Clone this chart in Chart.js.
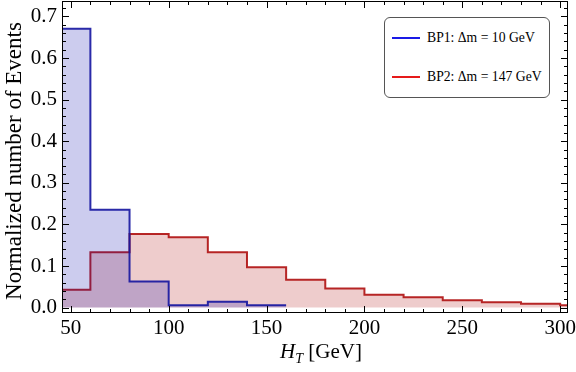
<!DOCTYPE html>
<html lang="en">
  <head>
    <meta charset="UTF-8" />
    <title>HT distribution</title>
    <script src="https://cdn.jsdelivr.net/npm/chart.js"></script>
    <style>
      body { margin: 0; background: #fff; }
      #wrap { position: relative; width: 576px; height: 372px; font-family: "Liberation Serif", serif; }
      #legend {
        position: absolute; left: 384px; top: 17px; width: 164px; height: 79px;
        border: 1px solid #555; border-radius: 6px; background: #fff; font-size: 13.7px;
      }
      .item { position: absolute; left: 7px; display: flex; align-items: center; white-space: nowrap; }
      .item span.ln { display: inline-block; width: 28px; height: 2px; margin-right: 7px; }
      #xtitle { position: absolute; left: 0; width: 642px; top: 339px; text-align: center; font-size: 21px; }
      #xtitle sub { font-size: 14px; }
      #ytitle {
        position: absolute; left: 14px; top: 161px; width: 320px; text-align: center;
        font-size: 23px; line-height: 26px; white-space: nowrap;
        transform: translate(-50%, -50%) rotate(-90deg);
      }
    </style>
  </head>
  <body>
    <div id="wrap">
      <canvas id="chart" width="576" height="372"></canvas>
      <div id="legend">
        <div class="item" style="top: 12px"><span class="ln" style="background:#1a1ae6"></span>BP1: &Delta;m = 10 GeV</div>
        <div class="item" style="top: 51px"><span class="ln" style="background:#e61a1a"></span>BP2: &Delta;m = 147 GeV</div>
      </div>
      <div id="xtitle"><i>H</i><sub><i>T</i></sub> [GeV]</div>
      <div id="ytitle">Normalized number of Events</div>
    </div>
    <script>
      // bin edges (GeV) and normalized counts
      const bp1Edges = [40, 60, 80, 100, 120, 140, 160];
      const bp1Values = [0.670, 0.235, 0.063, 0.0055, 0.014, 0.0055];
      const bp2Edges = [40, 60, 80, 100, 120, 140, 160, 180, 200, 220, 240, 260, 280, 300, 320];
      const bp2Values = [0.043, 0.133, 0.177, 0.169, 0.133, 0.097, 0.067, 0.046, 0.031, 0.025, 0.0175, 0.0127, 0.009, 0.0055];
      const xTicks = [50, 100, 150, 200, 250, 300];
      const yTicks = [0, 0.1, 0.2, 0.3, 0.4, 0.5, 0.6, 0.7];

      function steps(edges, values) {
        const pts = values.map((v, i) => ({ x: edges[i], y: v }));
        pts.push({ x: edges[values.length], y: values[values.length - 1] });
        return pts;
      }

      // Mathematica style frame with inward ticks on all four sides
      const framePlugin = {
        id: "frame",
        afterDatasetsDraw(chart) {
          const { ctx, chartArea: a, scales } = chart;
          const xs = scales.x, ys = scales.y;
          ctx.save();
          ctx.strokeStyle = "#000";
          ctx.lineWidth = 1;
          ctx.strokeRect(a.left + 0.5, a.top + 0.5, a.right - a.left - 1, a.bottom - a.top - 1);
          ctx.beginPath();
          for (let v = 50; v <= xs.max; v += 10) {
            const px = Math.round(xs.getPixelForValue(v)) + 0.5;
            const len = v % 50 === 0 ? 7 : 4;
            ctx.moveTo(px, a.bottom); ctx.lineTo(px, a.bottom - len);
            ctx.moveTo(px, a.top); ctx.lineTo(px, a.top + len);
          }
          for (let i = 0; i * 0.02 <= ys.max; i++) {
            const py = Math.round(ys.getPixelForValue(i * 0.02)) + 0.5;
            const len = i % 5 === 0 ? 7 : 4;
            ctx.moveTo(a.left, py); ctx.lineTo(a.left + len, py);
            ctx.moveTo(a.right, py); ctx.lineTo(a.right - len, py);
          }
          ctx.stroke();
          ctx.restore();
        },
      };

      const tickFont = { family: "Liberation Serif", size: 21 };

      new Chart(document.getElementById("chart"), {
        type: "line",
        data: {
          datasets: [
            {
              label: "BP1: \u0394m = 10 GeV",
              data: steps(bp1Edges, bp1Values),
              stepped: true,
              borderColor: "rgba(20, 20, 160, 0.9)",
              backgroundColor: "rgba(0, 0, 170, 0.2)",
              borderWidth: 2,
              pointRadius: 0,
              fill: "origin",
            },
            {
              label: "BP2: \u0394m = 147 GeV",
              data: steps(bp2Edges, bp2Values),
              stepped: true,
              borderColor: "rgba(175, 15, 15, 0.9)",
              backgroundColor: "rgba(170, 0, 0, 0.2)",
              borderWidth: 2,
              pointRadius: 0,
              fill: "origin",
            },
          ],
        },
        options: {
          responsive: false,
          animation: false,
          layout: { padding: { top: 1, right: 8, left: 0, bottom: 0 } },
          plugins: { legend: { display: false }, tooltip: { enabled: false } },
          scales: {
            x: {
              type: "linear",
              min: 45.5,
              max: 304,
              grid: { display: false, drawTicks: false },
              border: { display: false },
              ticks: { font: tickFont, color: "#000", padding: 3, maxRotation: 0 },
              afterBuildTicks(scale) { scale.ticks = xTicks.map(v => ({ value: v })); },
              afterFit(scale) { scale.height = 59; scale.paddingLeft = 0; scale.paddingRight = 0; },
            },
            y: {
              min: -0.013,
              max: 0.737,
              grid: { display: false, drawTicks: false },
              border: { display: false },
              ticks: { font: tickFont, color: "#000", padding: 5, callback: v => v.toFixed(1) },
              afterBuildTicks(scale) { scale.ticks = yTicks.map(v => ({ value: v })); },
              afterFit(scale) { scale.width = 62; scale.paddingTop = 0; scale.paddingBottom = 0; },
            },
          },
        },
        plugins: [framePlugin],
      });
    </script>
  </body>
</html>
